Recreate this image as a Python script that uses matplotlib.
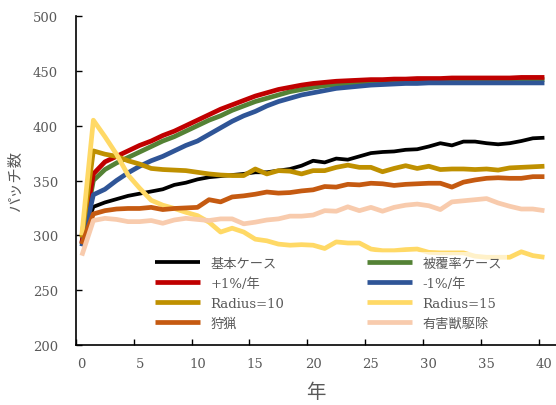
import matplotlib.pyplot as plt
import numpy as np

plt.rcParams['font.family'] = ['DejaVu Serif', 'Noto Sans CJK JP']

years = np.arange(0, 41)

base = [294, 326, 330, 333, 336, 338, 340, 342, 346, 348, 351, 353, 354, 355, 356,
        357.5, 357.5, 359, 360.5, 363.5, 368, 366.5, 370, 369, 372, 375, 376, 376.5,
        378, 378.5, 381, 384, 382, 385.5, 385.5, 384, 383, 384, 386, 388.5, 389]
coverage = [292, 350, 360, 366, 371, 376, 381, 386, 390, 395, 400, 405, 409, 414, 418,
            422, 425, 428, 431, 433, 435, 436.5, 437.5, 438.5, 439, 439.5, 440, 440,
            440.5, 440.5, 441, 441, 441, 441, 441.5, 441.5, 441.5, 441.5, 441.5, 442, 442]
plus1 = [293, 356, 367, 372, 377, 382, 386, 391, 395, 400, 405, 410, 415, 419, 423,
         427, 430, 433, 435, 437, 438.5, 439.5, 440.5, 441, 441.5, 442, 442, 442.5,
         442.5, 443, 443, 443, 443.5, 443.5, 443.5, 443.5, 443.5, 443.5, 444, 444, 444]
minus1 = [290, 337, 342, 350, 357, 363, 368, 372, 377, 382, 386, 392, 398, 404, 409,
          413, 418, 422, 425, 428, 430, 432, 434, 435, 436, 437, 437.5, 438, 438.5,
          438.5, 439, 439, 439, 439, 439, 439, 439, 439, 439, 439, 439]
radius10 = [298, 377, 374, 372, 368, 365, 361, 360, 359.5, 359, 357.5, 356, 355, 354.5,
            354.5, 360.5, 356, 359, 358.5, 356, 359, 359, 362, 364, 362, 362, 358, 361,
            363.5, 361, 363, 360, 360.5, 360.5, 360, 360.5, 359.5, 361.5, 362, 362.5, 363]
radius15 = [300, 405, 390, 374, 355, 343, 332, 327.5, 324.5, 321, 318, 312, 303, 306.5,
            303, 296.5, 295, 292, 291, 291.5, 291, 288, 294, 293, 293, 287.5, 286, 286,
            287, 287.5, 284.5, 284, 284, 284, 281, 280, 280, 280, 285, 281.5, 280]
hunting = [292, 319.5, 322.5, 324, 324.5, 324.5, 325.5, 323.5, 324.5, 325, 325.5, 332.5,
           330.5, 335, 336, 337.5, 339.5, 338.5, 339, 340.5, 341.5, 344.5, 344, 346.5,
           346, 347.5, 347, 345.5, 346.5, 347, 347.5, 347.5, 344, 348.5, 350.5, 352,
           352.5, 352, 352, 353.5, 353.5]
culling = [281.5, 313.5, 315.5, 314.5, 312.5, 312.5, 313.5, 311, 314, 315.5, 314.5, 313.5,
           315, 315, 310.5, 312, 314, 315, 317.5, 317.5, 318.5, 322.5, 322, 326, 322.5,
           325.5, 322, 325.5, 327.5, 328.5, 327, 323.5, 330.5, 331.5, 332.5, 333.5, 329.5,
           326.5, 324, 324, 322.5]

labels = ['基本ケース', '被覆率ケース', '+1%/年', '-1%/年',
          'Radius=10', 'Radius=15', '狩猟', '有害獣駆除']
colors = ['#000000', '#548235', '#C00000', '#2F5597',
          '#BF9000', '#FFD966', '#C55A11', '#F8CBAD']
series = [base, coverage, plus1, minus1, radius10, radius15, hunting, culling]

fig = plt.figure(figsize=(5.56, 4.06), dpi=100)
ax = fig.add_axes([0.1367, 0.1478, 0.8633, 0.8103])

handles = []
for data, lab, col in zip(series, labels, colors):
    lw = 2.7 if col == '#000000' else 3.4
    h, = ax.plot(years, data, color=col, lw=lw, label=lab,
                 solid_joinstyle='round', solid_capstyle='butt')
    handles.append(h)

ax.set_xlim(-0.5, 41)
ax.set_ylim(200, 500)
ax.set_yticks(np.arange(200, 501, 50))

# category style axis: ticks between categories, labels on them
ax.set_xticks(np.arange(-0.5, 40, 5))
ax.set_xticklabels([])
ax.set_xticks(np.arange(0, 41, 5), minor=True)
ax.set_xticklabels([str(v) for v in range(0, 41, 5)], minor=True)
ax.tick_params(axis='x', which='major', direction='in', length=4, width=1, color='black')
ax.tick_params(axis='x', which='minor', length=0, pad=9, labelsize=9.5, labelcolor='#595959')
ax.tick_params(axis='y', direction='in', length=4, width=1, pad=13,
               labelsize=9.5, labelcolor='#595959')

for s in ['top', 'right']:
    ax.spines[s].set_visible(False)
for s in ['left', 'bottom']:
    ax.spines[s].set_linewidth(1.2)
    ax.spines[s].set_color('black')

ax.set_xlabel('年', fontsize=14, color='#595959', labelpad=9)
ax.set_ylabel('パッチ数', fontsize=11, color='#595959', labelpad=7)

order = [0, 2, 4, 6, 1, 3, 5, 7]
leg = ax.legend([handles[i] for i in order], [labels[i] for i in order],
                ncol=2, loc='upper left', bbox_to_anchor=(0.153, 0.284),
                borderaxespad=0, fontsize=9.5, handlelength=3.4, handletextpad=0.8,
                columnspacing=6.3, labelspacing=0.53, frameon=True)
leg.get_frame().set_facecolor('white')
leg.get_frame().set_edgecolor('none')
leg.get_frame().set_alpha(0.65)
for t in leg.get_texts():
    t.set_color('#595959')

fig.savefig('out.png', dpi=100)
